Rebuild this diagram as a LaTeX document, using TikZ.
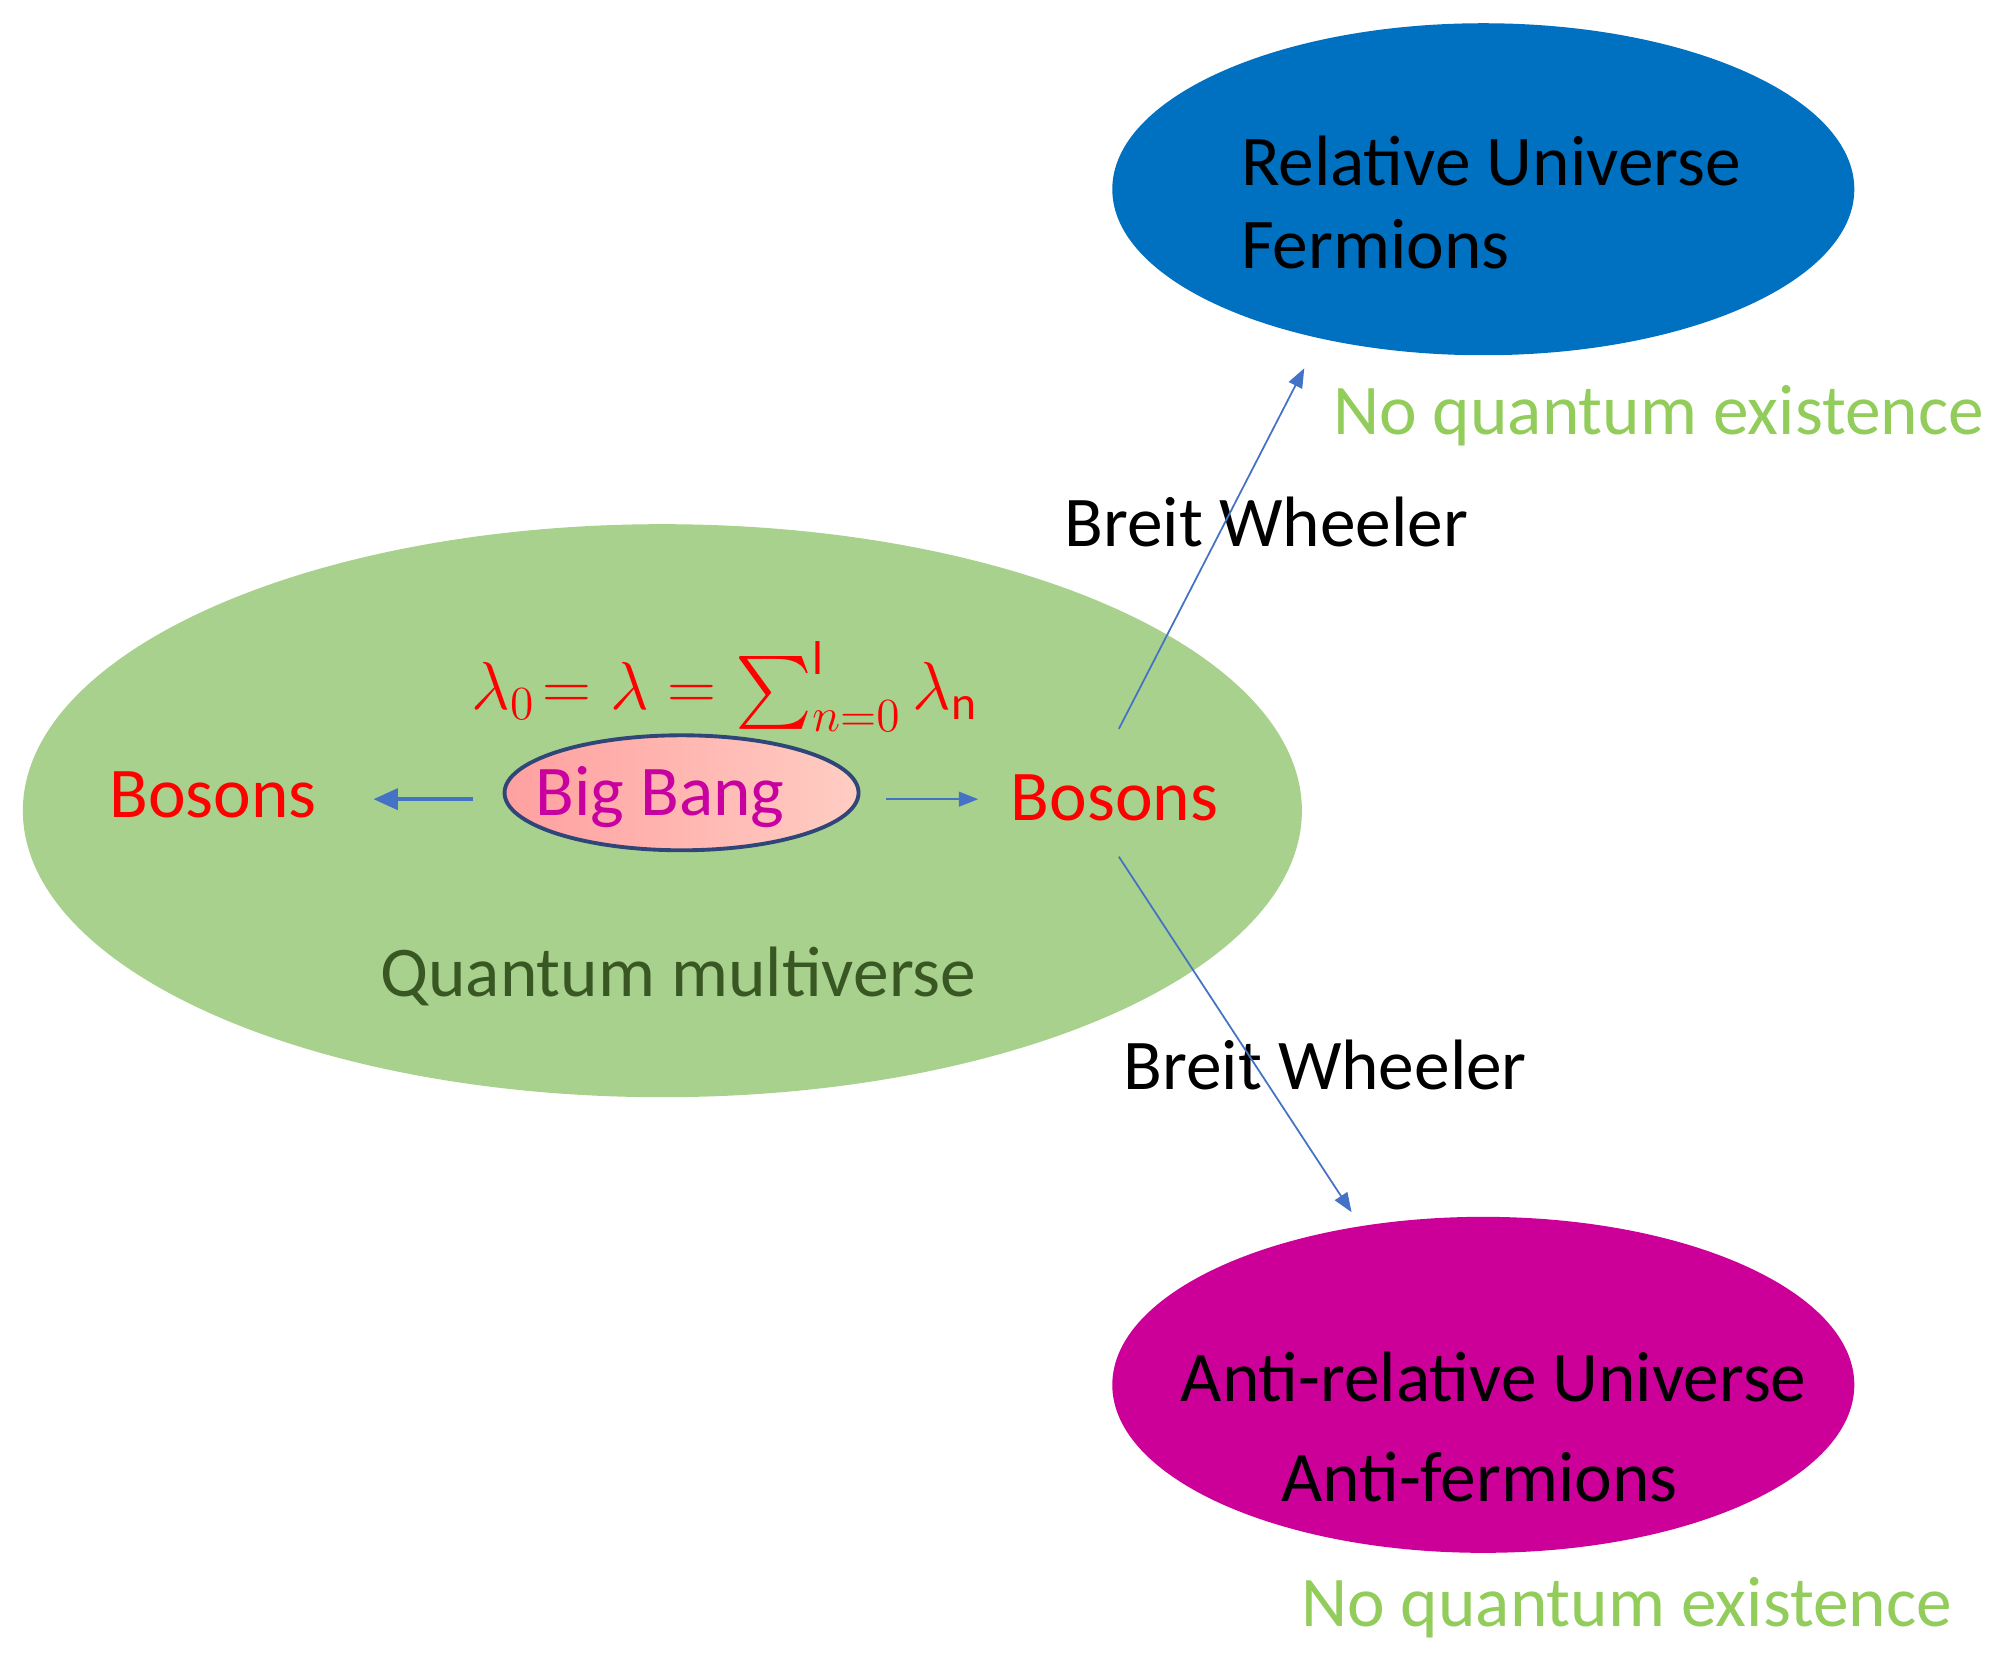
\documentclass[tikz,border=0pt]{standalone}
\usepackage{fix-cm}
\usepackage{amsmath}
\usepackage{fontspec}
\setmainfont{Carlito}
\usepackage{tikz}
\usetikzlibrary{positioning}
\usetikzlibrary{shapes}
\usetikzlibrary{arrows.meta}
\definecolor{relblue}{RGB}{0,112,192}
\definecolor{multigreen}{RGB}{169,209,142}
\definecolor{antimagenta}{RGB}{204,0,153}
\definecolor{arrowblue}{RGB}{68,114,196}
\definecolor{noqgreen}{RGB}{146,204,90}
\definecolor{darkgreen}{RGB}{56,87,35}
\definecolor{bangborder}{RGB}{47,70,120}
\definecolor{bangleft}{RGB}{255,160,160}
\definecolor{bangright}{RGB}{255,205,195}
\definecolor{bangtextcol}{RGB}{200,0,160}
\tikzset{
  arrow_thin/.style={-{Triangle[length=5.5pt, width=4.2pt]}, line width=0.5pt, color=arrowblue},
  arrow_thick/.style={-{Triangle[length=7pt, width=6pt]}, line width=1.1pt, color=arrowblue},
  universe/.style={ellipse, draw=none, inner sep=0},
  big_text/.style={font=\fontsize{20.3}{24}\selectfont, inner sep=0}
}
\begin{document}
\begin{tikzpicture}[x=0.012787cm, y=-0.012787cm]

\useasboundingbox (0,0) rectangle (1568,1304);

%%% universes
\node[universe, fill=relblue, minimum width=7.42cm, minimum height=3.32cm] at (1160,148) (relative){};
\node[universe, fill=multigreen, minimum width=12.79cm, minimum height=5.73cm] at (518,634) (multi){};
\node[universe, fill=antimagenta, minimum width=7.42cm, minimum height=3.36cm] at (1160,1083) (antirel){};
\node[universe, draw=bangborder, line width=1.1pt, left color=bangleft, right color=bangright, minimum width=3.54cm, minimum height=1.15cm] at (533,620) (bang){};

%%% relative universe text
\node[big_text, anchor=base west] at (970,145) (rel1) {Relative Universe};
\node[big_text, anchor=base west] at (970,210) (rel2) {Fermions};
\node[big_text, anchor=base west, text=noqgreen] at (1042,340) (noq1) {No quantum existence};

%%% quantum multiverse text
\node[big_text, anchor=base west, text=red, font=\fontsize{19.3}{23}\selectfont] at (368,555) (lambda) {$\lambda_0\!= \lambda = \sum_{n=0}^{\mathrm{l}} \lambda_{\mathrm{n}}$};
\node[big_text, anchor=base west, text=red] at (85,639) (bosonl) {Bosons};
\node[big_text, anchor=base, text=bangtextcol] at (516,638) (bangtext) {Big Bang};
\node[big_text, anchor=base west, text=red] at (790,642) (bosonr) {Bosons};
\node[big_text, anchor=base west, text=darkgreen] at (297,779) (multitext) {Quantum multiverse};

%%% breit wheeler labels
\node[big_text, anchor=base west] at (832,427) (bw1) {Breit Wheeler};
\node[big_text, anchor=base west] at (878,852) (bw2) {Breit Wheeler};

%%% anti-relative universe text
\node[big_text, anchor=base] at (1168,1096) (anti1) {Anti-relative Universe};
\node[big_text, anchor=base] at (1157,1174) (anti2) {Anti-fermions};
\node[big_text, anchor=base west, text=noqgreen] at (1017,1272) (noq2) {No quantum existence};

%%% arrow ends
\coordinate (bangl) at (370,625);
\coordinate (bosl) at (292,625);
\coordinate (bangr) at (693,625);
\coordinate (bosr) at (765,625);
\coordinate (upstart) at (875,570);
\coordinate (upend) at (1020,288);
\coordinate (downstart) at (875,670);
\coordinate (downend) at (1057,948);

\draw[arrow_thick] (bangl) -- (bosl);
\draw[arrow_thin] (bangr) -- (bosr);
\draw[arrow_thin] (upstart) -- (upend);
\draw[arrow_thin] (downstart) -- (downend);

\end{tikzpicture}
\end{document}
